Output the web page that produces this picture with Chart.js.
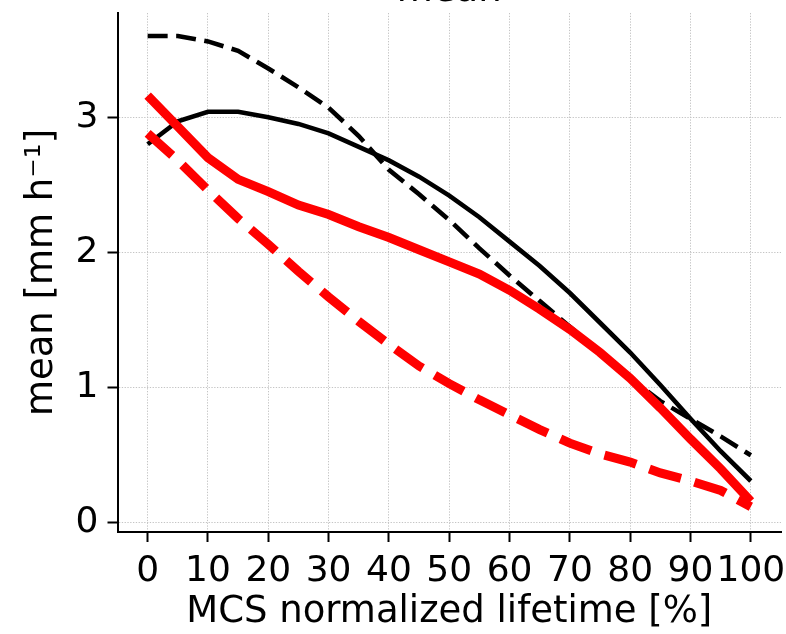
<html>

<head>
  <script src="https://cdn.jsdelivr.net/npm/chart.js"></script>
  <style>
    body { margin: 0; background: #fff; overflow: hidden; }
    #myChart { position: absolute; left: 0; top: -27px; }
  </style>
</head>

<body>
  <canvas id="myChart" width="786" height="661"></canvas>
  <script>
    // MCS normalized lifetime [%]
    const lifetime = [0, 5, 10, 15, 20, 25, 30, 35, 40, 45, 50, 55, 60, 65, 70, 75, 80, 85, 90, 95, 100];

    const blackSolid = [2.80, 2.97, 3.04, 3.04, 3.00, 2.95, 2.88, 2.78, 2.68, 2.56, 2.42, 2.26, 2.08, 1.90, 1.70, 1.48, 1.26, 1.02, 0.77, 0.53, 0.31];
    const blackDashed = [3.60, 3.60, 3.56, 3.49, 3.36, 3.22, 3.07, 2.86, 2.61, 2.43, 2.24, 2.03, 1.83, 1.64, 1.45, 1.26, 1.07, 0.90, 0.77, 0.64, 0.50];
    const redSolid = [3.16, 2.93, 2.70, 2.54, 2.45, 2.35, 2.28, 2.19, 2.11, 2.02, 1.93, 1.84, 1.72, 1.58, 1.43, 1.26, 1.07, 0.85, 0.62, 0.40, 0.16];
    const redDashed = [2.88, 2.68, 2.46, 2.25, 2.06, 1.86, 1.67, 1.49, 1.32, 1.16, 1.03, 0.91, 0.80, 0.69, 0.59, 0.51, 0.45, 0.37, 0.31, 0.24, 0.12];

    const xTicks = [0, 10, 20, 30, 40, 50, 60, 70, 80, 90, 100];
    const yTicks = [0, 1, 2, 3];

    const toPoints = vals => vals.map((v, i) => ({ x: lifetime[i], y: v }));
    const font = { family: 'DejaVu Sans', size: 36 };
    const labelFont = { family: 'DejaVu Sans', size: 37, weight: 'normal', lineHeight: 1 };
    const grid = {
      color: '#c4c4c4',
      lineWidth: 1,
      tickColor: '#000',
      tickWidth: 2,
      tickLength: 10,
      tickBorderDash: []
    };
    // in v4 border.dash is the dash of the grid lines
    const border = { display: true, color: '#000', width: 2, dash: [1.3, 1.5] };

    var ctx = document.getElementById('myChart').getContext('2d');
    var grafica = new Chart(ctx, {
      type: 'line',
      data: {
        datasets: [{
          data: toPoints(redDashed),
          borderColor: '#ff0000',
          borderWidth: 9,
          borderDash: [33, 14]
        }, {
          data: toPoints(redSolid),
          borderColor: '#ff0000',
          borderWidth: 9
        }, {
          data: toPoints(blackDashed),
          borderColor: '#000000',
          borderWidth: 4.6,
          borderDash: [20, 8.5]
        }, {
          data: toPoints(blackSolid),
          borderColor: '#000000',
          borderWidth: 4.6
        }]
      },
      options: {
        responsive: false,
        animation: false,
        layout: { padding: { left: 0, right: 5, top: 0, bottom: 0 } },
        elements: {
          point: { radius: 0 },
          line: { tension: 0, fill: false, borderCapStyle: 'butt' }
        },
        plugins: {
          legend: { display: false },
          tooltip: { enabled: false },
          title: {
            display: true,
            text: 'mean',
            fullSize: false,
            color: '#000',
            font: labelFont,
            padding: { top: 0, bottom: 3 }
          }
        },
        scales: {
          x: {
            type: 'linear',
            min: -5,
            max: 105,
            afterBuildTicks: s => { s.ticks = xTicks.map(v => ({ value: v })); },
            afterFit: s => { s.height = 102; s.paddingLeft = 0; s.paddingRight = 0; },
            ticks: { color: '#000', font: font, padding: 8, maxRotation: 0, autoSkip: false },
            grid: grid,
            border: border,
            title: {
              display: true,
              text: 'MCS normalized lifetime [%]',
              color: '#000',
              font: labelFont,
              padding: { top: 0, bottom: 3.5 }
            }
          },
          y: {
            min: -0.067,
            max: 3.77,
            afterBuildTicks: s => { s.ticks = yTicks.map(v => ({ value: v })); },
            afterFit: s => { s.width = 117.5; s.paddingTop = 0; s.paddingBottom = 0; },
            ticks: { color: '#000', font: font, padding: 9 },
            grid: grid,
            border: border,
            title: {
              display: true,
              text: 'mean [mm h\u207B\u00B9]',
              color: '#000',
              font: labelFont,
              padding: { top: 23.5, bottom: 0 }
            }
          }
        }
      }
    });
  </script>
</body>

</html>
